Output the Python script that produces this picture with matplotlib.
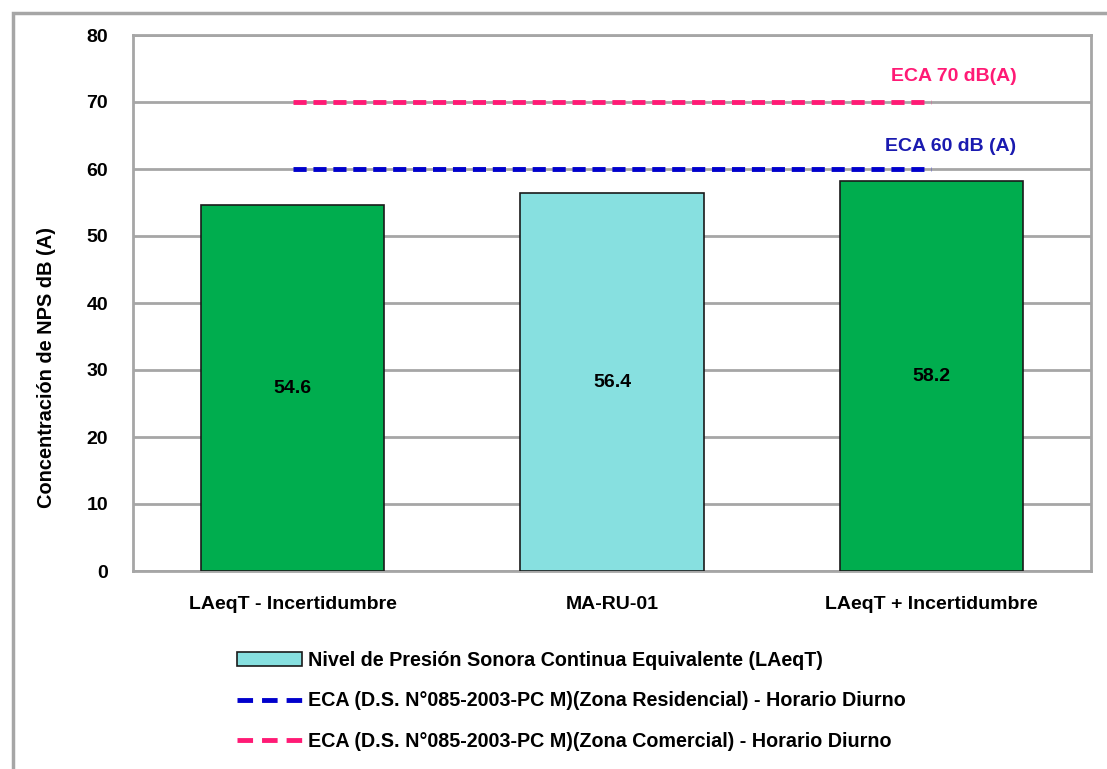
import matplotlib
matplotlib.use('Agg')
from matplotlib import pyplot as plt
from matplotlib.patches import Rectangle
from matplotlib.lines import Line2D

categorias = ['LAeqT - Incertidumbre', 'MA-RU-01', 'LAeqT + Incertidumbre']
valores = [54.6, 56.4, 58.2]
colores = ['#00AD4E', '#87E0E0', '#00AD4E']
eca_residencial = 60
eca_comercial = 70
yticks = [0, 10, 20, 30, 40, 50, 60, 70, 80]

plt.rcParams['font.family'] = ['Liberation Sans', 'DejaVu Sans']
plt.rcParams['font.weight'] = 'bold'

fig = plt.figure(figsize=(11.07, 7.69), dpi=100)
ax = fig.add_axes([133/1107, 1 - 571/769, (1091-133)/1107, (571-35)/769])

x = list(range(len(categorias)))
barras = ax.bar(x, valores, width=0.575, color=colores, edgecolor='#1a1a1a', linewidth=1.2, zorder=3)
for xi, v in zip(x, valores):
    ax.text(xi, v / 2, str(v), ha='center', va='center', fontsize=14, fontweight='bold', zorder=4)

# lineas ECA
ax.plot([x[0], x[-1]], [eca_residencial, eca_residencial], color='#0000CC', lw=3.5,
        dashes=(2.7, 1.4), zorder=4)
ax.plot([x[0], x[-1]], [eca_comercial, eca_comercial], color='#FF1A75', lw=3.5,
        dashes=(2.7, 1.4), zorder=4)
ax.text(2.06, 63.4, 'ECA 60 dB (A)', color='#1A1AB0', fontsize=14, fontweight='bold', ha='center', va='center')
ax.text(2.07, 73.8, 'ECA 70 dB(A)', color='#FF1A75', fontsize=14, fontweight='bold', ha='center', va='center')

ax.set_xlim(-0.5, 2.5)
ax.set_ylim(0, 80)
ax.set_yticks(yticks)
ax.set_xticks(x)
ax.set_xticklabels(categorias, fontsize=14, fontweight='bold')
ax.tick_params(axis='both', length=0, labelsize=14)
ax.tick_params(axis='y', pad=18)
ax.tick_params(axis='x', pad=18)
ax.grid(axis='y', color='#A6A6A6', lw=2, zorder=0)
for s in ax.spines.values():
    s.set_color('#A6A6A6')
    s.set_linewidth(2)
ax.set_ylabel('Concentración de NPS dB (A)', fontsize=14.4, fontweight='bold')
ax.yaxis.set_label_coords(-0.080, 0.38)

# marco exterior
fig.patches.append(Rectangle((13/1107, -0.2), 1.2, 1.2 - 13/769, transform=fig.transFigure,
                             fill=False, edgecolor='#A6A6A6', lw=2.5))

handles = [Rectangle((0, 0), 1, 1, facecolor='#87E0E0', edgecolor='#1a1a1a', lw=1.2),
           Line2D([], [], color='#0000CC', lw=3.5, dashes=(3.2, 1.85)),
           Line2D([], [], color='#FF1A75', lw=3.5, dashes=(3.2, 1.85))]
labels = ['Nivel de Presión Sonora Continua Equivalente (LAeqT)',
          'ECA (D.S. N°085-2003-PC M)(Zona Residencial) - Horario Diurno',
          'ECA (D.S. N°085-2003-PC M)(Zona Comercial) - Horario Diurno']
fig.legend(handles, labels, loc='upper left', bbox_to_anchor=(219/1107, 1 - 633/769), frameon=False,
           fontsize=14.2, handlelength=3.3, handletextpad=0.3, labelspacing=1.1)

fig.savefig('out.png', dpi=100)
